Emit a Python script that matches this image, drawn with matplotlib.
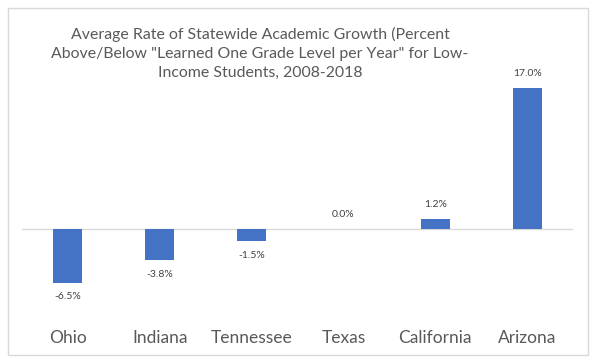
import matplotlib
matplotlib.use("Agg")
import matplotlib.pyplot as plt
from matplotlib.patches import Rectangle

states = ["Ohio", "Indiana", "Tennessee", "Texas", "California", "Arizona"]
growth = [-6.5, -3.8, -1.5, 0.0, 1.2, 17.0]
labels = ["-6.5%", "-3.8%", "-1.5%", "0.0%", "1.2%", "17.0%"]
title = ('Average Rate of Statewide Academic Growth (Percent\n'
         'Above/Below "Learned One Grade Level per Year" for Low-\n'
         'Income Students, 2008-2018')

plt.rcParams['font.family'] = ['Lato', 'DejaVu Sans']
W, H = 598, 364
fig = plt.figure(figsize=(W / 100, H / 100), dpi=100)

ymin, ymax = -8.0, 18.0
ax = fig.add_axes([22 / W, 0.1893, (573 - 22) / W, 0.7821 - 0.1893])
x = list(range(len(states)))
ax.bar(x, growth, width=0.315, color="#4472C4", zorder=3)
ax.axhline(0, color="#D9D9D9", lw=1, zorder=2)
ax.set_xlim(-0.5, len(states) - 0.5)
ax.set_ylim(ymin, ymax)
for s in ax.spines.values():
    s.set_visible(False)
ax.set_yticks([])
ax.set_xticks(x)
ax.set_xticklabels(states, fontsize=12.5, color="#595959")
ax.tick_params(axis='x', length=0, pad=25)
for xi, v, lab in zip(x, growth, labels):
    off = -10 if v < 0 else 10
    ax.annotate(lab, (xi, v), xytext=(0, off), textcoords='offset points',
                ha='center', va='center', fontsize=7.5, color="#404040")

fig.text(260 / W, 1 - 53.5 / H, title, ha='center', va='center',
         multialignment='center', fontsize=11.4,
         color="#595959", linespacing=1.42)

fig.patches.append(Rectangle((8 / W, 1 - 355 / H), (588 - 8) / W, (355 - 8) / H,
                             transform=fig.transFigure, fill=False,
                             edgecolor="#D9D9D9", lw=1))
fig.savefig("out.png", dpi=100, facecolor="white")
